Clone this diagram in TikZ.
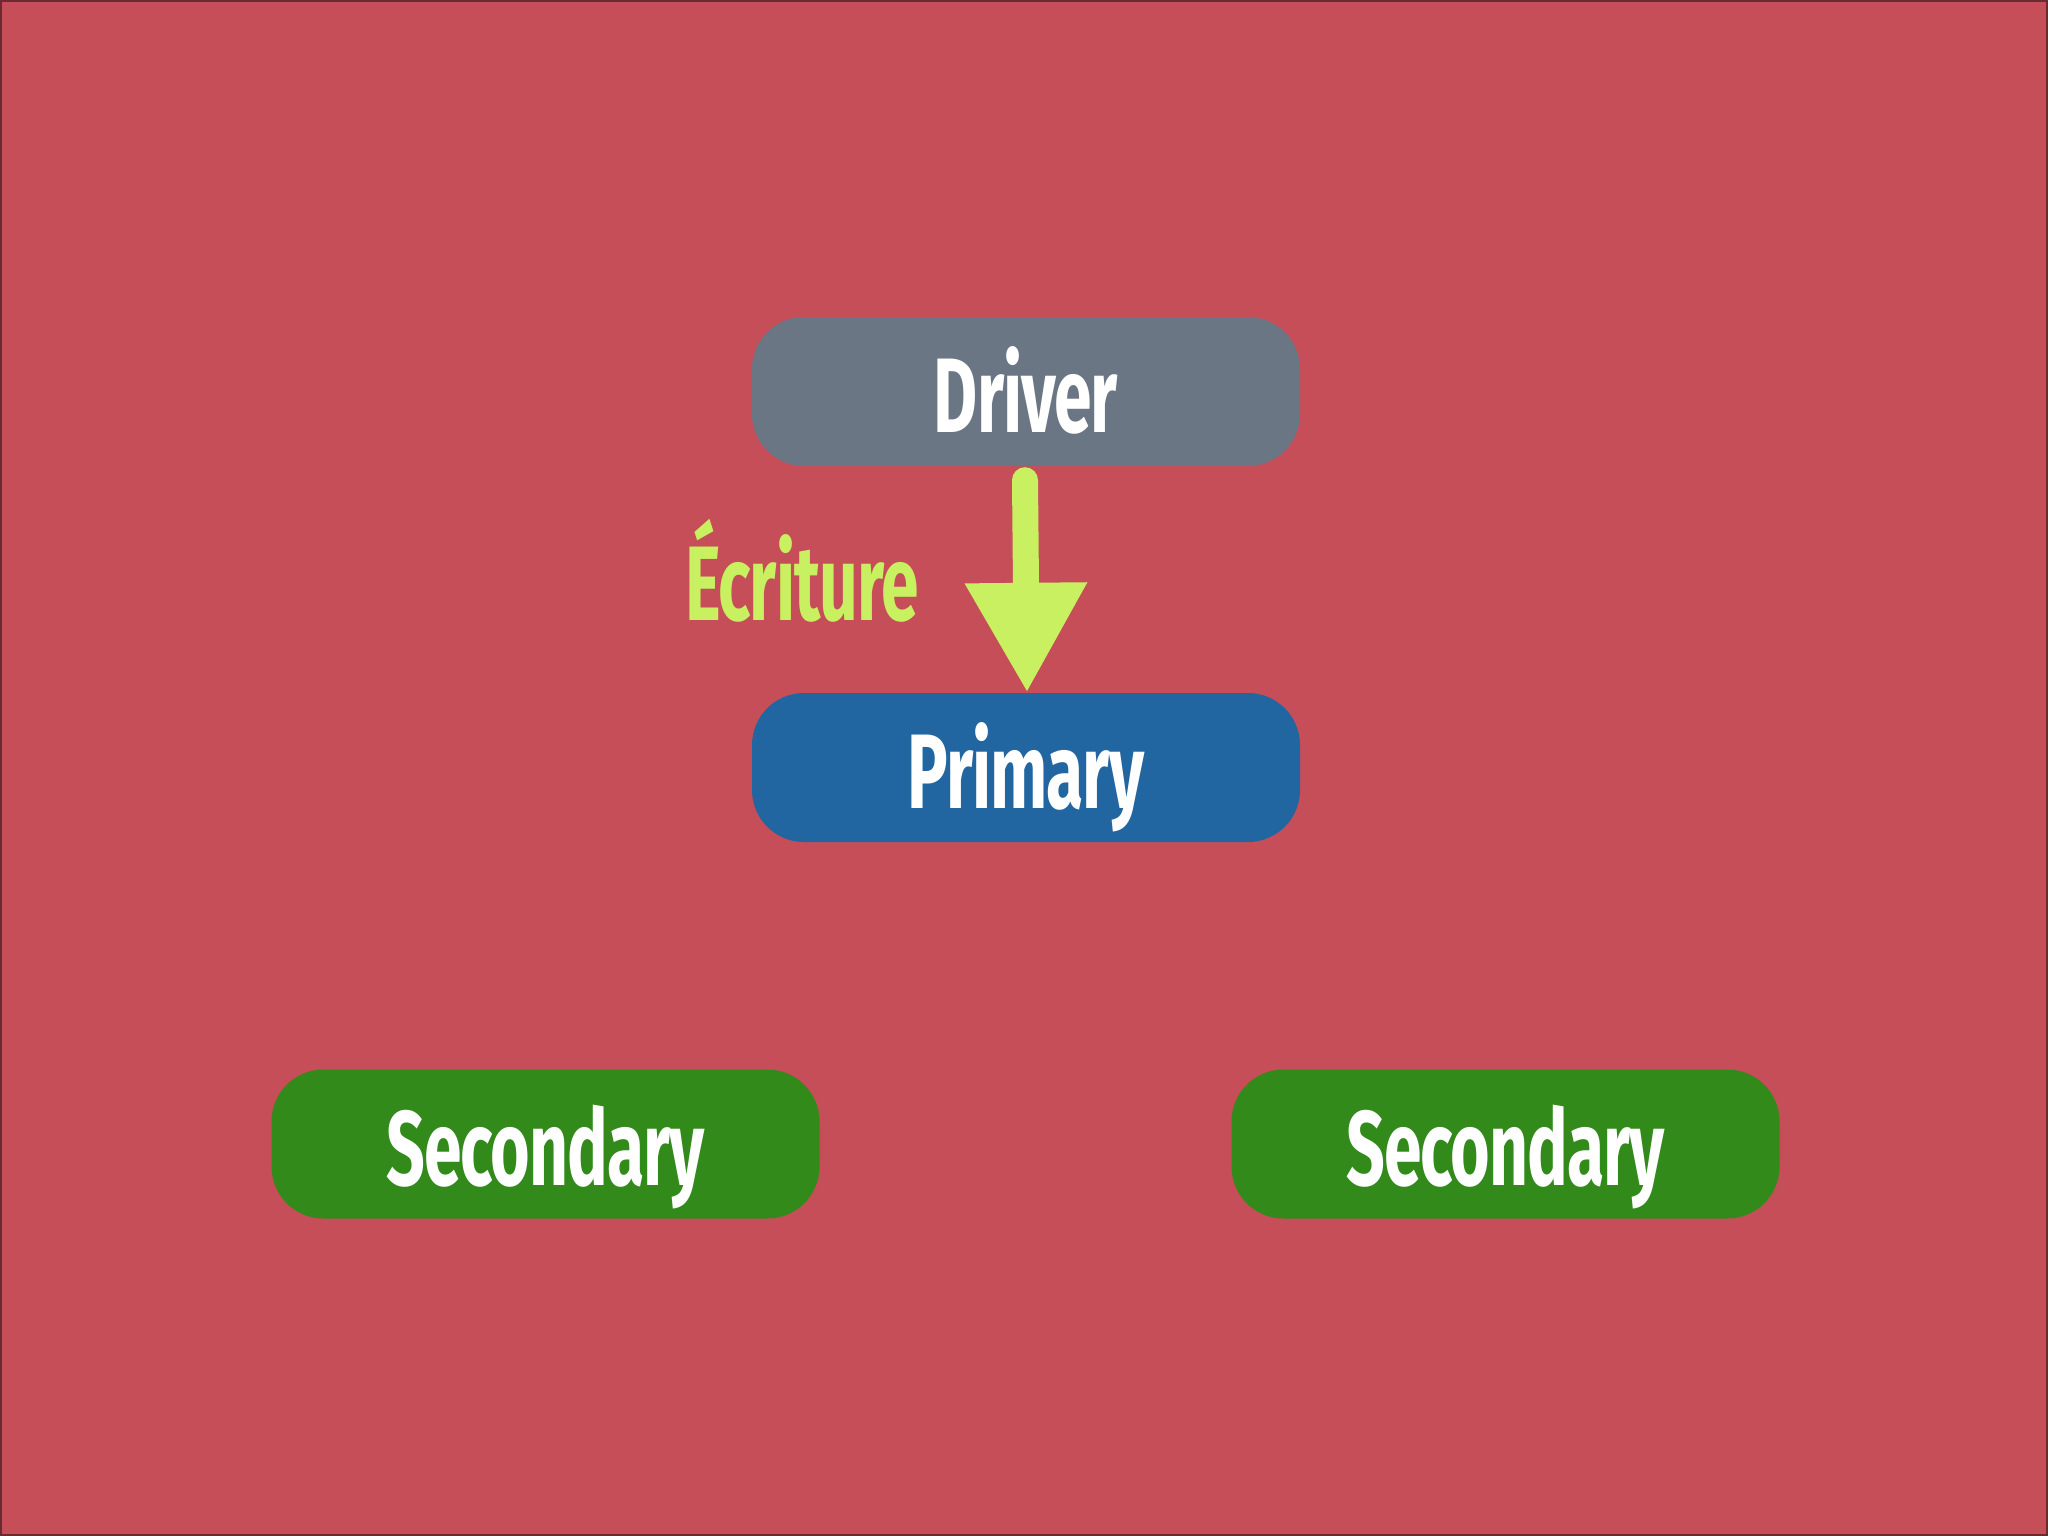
\documentclass[tikz,border=0pt]{standalone}
\usepackage{fontspec}
\setmainfont{Fira Sans}[UprightFont={* Bold},FakeStretch=0.64,LetterSpace=-1]
\usetikzlibrary{arrows.meta}
\definecolor{bgred}{HTML}{C54E58}
\definecolor{drivergray}{HTML}{6B7684}
\definecolor{primblue}{HTML}{2266A1}
\definecolor{secgreen}{HTML}{328A1B}
\definecolor{lime}{HTML}{C8F060}
\definecolor{edge}{HTML}{6A2A30}
\begin{document}
\begin{tikzpicture}[x=1pt,y=-1pt,
  box/.style={rounded corners=52pt,minimum width=548pt,minimum height=149pt,inner sep=0pt},
  lbl/.style={text=white,font=\fontsize{106}{120}\selectfont,anchor=base,inner sep=0pt}]
\useasboundingbox (0,0) rectangle (2048,1536);
\fill[bgred] (0,0) rectangle (2048,1536);
\draw[edge,line width=2pt] (1,1) rectangle (2047,1535);
% boxes
\node[box,fill=drivergray] (driver) at (1026,391.5) {};
\node[box,fill=primblue] (primary) at (1026,767.5) {};
\node[box,fill=secgreen] (sec1) at (545.5,1144) {};
\node[box,fill=secgreen] (sec2) at (1505.5,1144) {};
% labels
\node[lbl] (tdriver) at (1026,432) {Driver};
\node[lbl] (tprimary) at (1026,808) {Primary};
\node[lbl] (tsec1) at (545.5,1185) {Secondary};
\node[lbl] (tsec2) at (1505.5,1185) {Secondary};
% arrow
\coordinate (astart) at ([xshift=-1pt,yshift=-14pt]driver.south);
\coordinate (aend) at ([xshift=1pt]primary.north);
\draw[lime,line width=26pt,line cap=round,-{Triangle[width=115pt,length=110pt]}] (astart) -- (aend);
\node[text=lime,font=\fontsize{106}{120}\selectfont,anchor=base west,inner sep=0pt] (ecr) at (685,620) {Écriture};
\end{tikzpicture}
\end{document}
